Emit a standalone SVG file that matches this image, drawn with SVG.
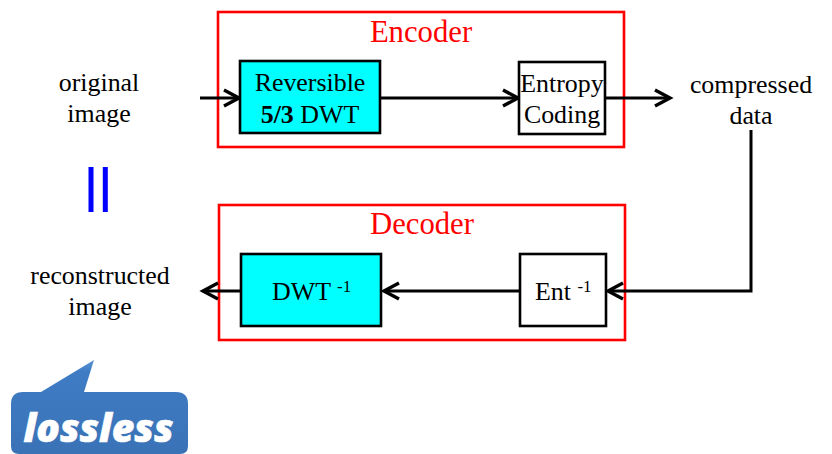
<svg xmlns="http://www.w3.org/2000/svg" width="832" height="454" viewBox="0 0 832 454">
<style>
text{font-family:"Liberation Serif","Times New Roman",serif;fill:#000;text-anchor:middle;font-size:25.9px}
.red{fill:none;stroke:#f00;stroke-width:2.6}
.box{stroke:#000;stroke-width:2.6}
.title{fill:#f00;font-size:30.7px}
.c{fill:none;stroke:#000;stroke-width:3}
.h{fill:none;stroke:#000;stroke-width:3.4}
.sup{font-size:17px}
</style>
<defs>
<linearGradient id="bubble" x1="0" y1="0" x2="0" y2="1"><stop offset="0" stop-color="#5b93d6"/><stop offset="0.12" stop-color="#3f7cc4"/><stop offset="1" stop-color="#3a72b6"/></linearGradient>
</defs>
<rect width="832" height="454" fill="#fff"/>
<g id="encoder"><rect class="red" x="218" y="12" width="406" height="135"/><text class="title" x="421" y="42">Encoder</text></g>
<g id="decoder"><rect class="red" x="219" y="205" width="406" height="135"/><text class="title" x="422" y="234">Decoder</text></g>
<g id="connectors">
<path class="c" d="M200 98H238"/><path class="h" d="M224 90L239 98L224 106"/>
<path class="c" d="M381 98H517"/><path class="h" d="M503 90L518 98L503 106"/>
<path class="c" d="M605 98H669"/><path class="h" d="M655 90L670 98L655 106"/>
<path class="c" d="M751 130V291H608"/><path class="h" d="M623 283L608 291L623 299"/>
<path class="c" d="M520 291H385"/><path class="h" d="M399 283L384 291L399 299"/>
<path class="c" d="M241 291H204"/><path class="h" d="M218 283L203 291L218 299"/>
</g>
<g id="original-image"><text x="99" y="91">original</text><text x="99" y="122">image</text></g>
<g id="reversible-dwt"><rect class="box" x="240" y="61" width="140" height="72" fill="#0ff"/><text x="310" y="91">Reversible</text><text x="310" y="123"><tspan font-weight="bold">5/3</tspan> DWT</text></g>
<g id="entropy-coding"><rect class="box" x="519" y="62" width="86" height="72" fill="#fff"/><text x="562" y="92">Entropy</text><text x="562" y="123">Coding</text></g>
<g id="compressed-data"><text x="751" y="93">compressed</text><text x="751" y="124">data</text></g>
<g id="equals"><rect x="88.5" y="167" width="5" height="45" fill="#00f"/><rect x="102.8" y="167" width="5" height="45" fill="#00f"/></g>
<g id="dwt-inverse"><rect class="box" x="241" y="254" width="140" height="72" fill="#0ff"/><text x="272" y="300" style="text-anchor:start">DWT <tspan class="sup" dy="-8">-1</tspan></text></g>
<g id="ent-inverse"><rect class="box" x="520" y="254" width="86" height="72" fill="#fff"/><text x="535" y="300" style="text-anchor:start">Ent <tspan class="sup" dy="-8">-1</tspan></text></g>
<g id="reconstructed-image"><text x="100" y="284">reconstructed</text><text x="100" y="315">image</text></g>
<g id="lossless">
<path d="M23 392H41L94 360L84 392H176Q188 392 188 404V446Q188 454 180 454H19Q11 454 11 446V404Q11 392 23 392Z" fill="url(#bubble)"/>
<text x="98.5" y="442" style="font-family:'Open Sans','Noto Sans',sans-serif;font-weight:800;font-style:italic;font-size:39px;fill:#fff;stroke:#fff;stroke-width:0.6">lossless</text>
</g>
</svg>
